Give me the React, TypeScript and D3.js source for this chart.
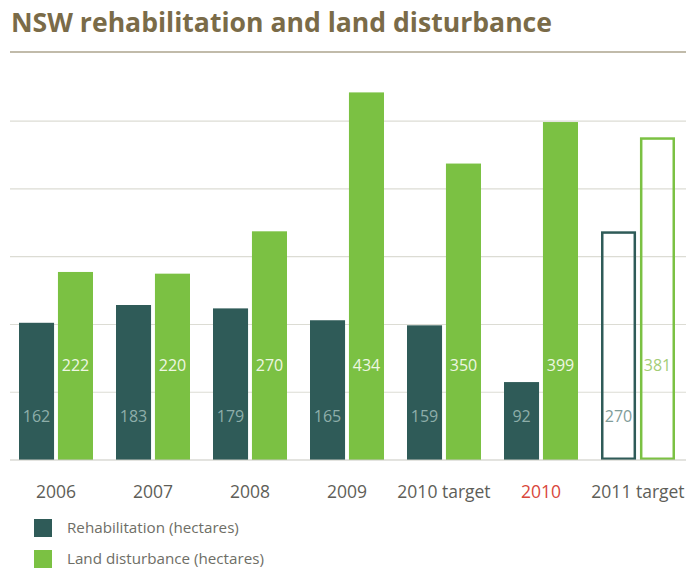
import React from "react";
import * as d3 from "d3";

const categories = ["2006", "2007", "2008", "2009", "2010 target", "2010", "2011 target"];
const rehabilitation = [162, 183, 179, 165, 159, 92, 270];
const landDisturbance = [222, 220, 270, 434, 350, 399, 381];
const outlined = [false, false, false, false, false, false, true];
const highlighted = [false, false, false, false, false, true, false];
const gridTicks = [80, 160, 240, 320, 400];
const seriesNames = ["Rehabilitation (hectares)", "Land disturbance (hectares)"];

const W = 688;
const H = 571;
const DARK = "#2f5b58";
const GREEN = "#7bc143";
const FONT = "'Open Sans', 'Noto Sans', sans-serif";

export default function App() {
  const x = d3.scaleBand<string>().domain(categories).range([19, 675]).paddingInner(23 / 97).paddingOuter(0);
  const inner = d3.scaleBand<string>().domain(["r", "l"]).range([0, x.bandwidth()]).paddingInner(0.1);
  const y = d3.scaleLinear().domain([0, 400]).range([460, 121.2]);

  return (
    <svg width={W} height={H} style={{ position: "absolute", left: 0, top: 0, background: "#fff" }} fontFamily={FONT}>
      <rect x={0} y={0} width={W} height={H} fill="#fff" />
      <text x={11} y={32} fontSize={26} fontWeight={700} fill="#7a6b48" textLength={541} lengthAdjust="spacingAndGlyphs">
        NSW rehabilitation and land disturbance
      </text>
      <line x1={10} x2={686} y1={52} y2={52} stroke="#aca48e" strokeWidth={1.5} />

      {gridTicks.map((t) => (
        <line key={t} x1={10} x2={686} y1={y(t)} y2={y(t)} stroke="#dcdcd4" strokeWidth={1.2} />
      ))}

      {categories.map((c, i) => {
        const gx = x(c)!;
        const rx = gx + inner("r")!;
        const lx = gx + inner("l")!;
        const bw = inner.bandwidth();
        const isOut = outlined[i];
        const sw = 2.5;
        return (
          <g key={c}>
            {isOut ? (
              <>
                <rect x={rx + sw / 2} y={y(rehabilitation[i]) + sw / 2} width={bw - sw} height={y(0) - y(rehabilitation[i]) - sw} fill="none" stroke={DARK} strokeWidth={sw} />
                <rect x={lx + sw / 2} y={y(landDisturbance[i]) + sw / 2} width={bw - sw} height={y(0) - y(landDisturbance[i]) - sw} fill="none" stroke={GREEN} strokeWidth={sw} />
              </>
            ) : (
              <>
                <rect x={rx} y={y(rehabilitation[i])} width={bw} height={y(0) - y(rehabilitation[i])} fill={DARK} />
                <rect x={lx} y={y(landDisturbance[i])} width={bw} height={y(0) - y(landDisturbance[i])} fill={GREEN} />
              </>
            )}
            <text x={rx + bw / 2} y={422} textAnchor="middle" fontSize={16} fill={isOut ? "#7f9c99" : "#8eaeaa"}>
              {rehabilitation[i]}
            </text>
            <text x={lx + bw / 2} y={371} textAnchor="middle" fontSize={16} fill={isOut ? "#a3cd76" : "#eef7e2"}>
              {landDisturbance[i]}
            </text>
            <text x={gx + x.bandwidth() / 2} y={498} textAnchor="middle" fontSize={17.5} fill={highlighted[i] ? "#d9473b" : "#5e5e58"}>
              {c}
            </text>
          </g>
        );
      })}

      <line x1={10} x2={686} y1={y(0)} y2={y(0)} stroke="#c8c8c0" strokeWidth={1.2} />

      {seriesNames.map((s, i) => (
        <g key={s} transform={`translate(34, ${519 + i * 31})`}>
          <rect x={0} y={0} width={18} height={18} fill={i === 0 ? DARK : GREEN} />
          <text x={33} y={14} fontSize={15.2} fill="#6e6e66">
            {s}
          </text>
        </g>
      ))}
    </svg>
  );
}
